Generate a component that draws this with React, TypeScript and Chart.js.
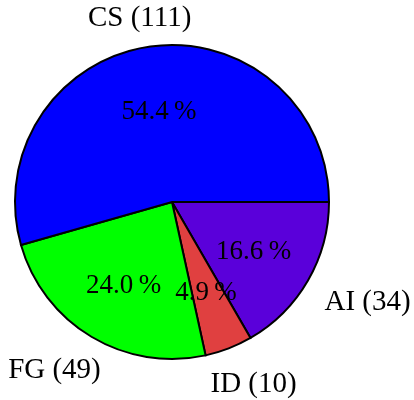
import React, { useEffect, useRef } from "react";
import { Chart, registerables } from "chart.js";

Chart.register(...registerables);

const categories = ["CS", "FG", "ID", "AI"];
const values = [111, 49, 10, 34];
const colors = ["#0000ff", "#00ff00", "#e04040", "#5a00da"];

const LABEL_FONT = "29px 'Liberation Serif', 'DejaVu Serif', serif";
const PCT_FONT = "27px 'Liberation Serif', 'DejaVu Serif', serif";

const labelPlugin = {
  id: "pieLabels",
  afterDatasetsDraw(chart: any) {
    const meta = chart.getDatasetMeta(0);
    const data: number[] = chart.data.datasets[0].data;
    const labels: string[] = chart.data.labels;
    const total = data.reduce((a, b) => a + b, 0);
    const ctx = chart.ctx;
    ctx.save();
    ctx.fillStyle = "#000";
    ctx.textAlign = "center";
    ctx.textBaseline = "middle";
    meta.data.forEach((arc: any, i: number) => {
      const p = arc.getProps(["startAngle", "endAngle", "x", "y", "outerRadius"], true);
      const mid = (p.startAngle + p.endAngle) / 2;
      const c = Math.cos(mid);
      const s = Math.sin(mid);
      const r = p.outerRadius;
      const pctVal = Math.floor((data[i] / total) * 1000) / 10;
      const pct = pctVal.toFixed(1) + "\u2009%";
      ctx.font = PCT_FONT;
      ctx.fillText(pct, p.x + c * r * 0.6, p.y + s * r * 0.6 + 3);
      const txt = `${labels[i]} (${data[i]})`;
      ctx.font = LABEL_FONT;
      const w = ctx.measureText(txt).width;
      const rx = r * 1.1 + w / 2 + 10;
      const ry = r * 1.1 + 18;
      ctx.fillText(txt, p.x + c * rx, p.y + s * ry + 5);
    });
    ctx.restore();
  },
};

export default function App() {
  const ref = useRef<HTMLCanvasElement>(null);
  useEffect(() => {
    document.body.style.margin = "0";
    const order = [3, 2, 1, 0];
    const chart = new Chart(ref.current!, {
      type: "pie",
      data: {
        labels: order.map((i) => categories[i]),
        datasets: [
          {
            data: order.map((i) => values[i]),
            backgroundColor: order.map((i) => colors[i]),
            borderColor: "#000",
            borderWidth: 2,
            borderJoinStyle: "miter",
          } as any,
        ],
      },
      options: {
        responsive: false,
        animation: false,
        rotation: 90,
        layout: { padding: { left: 14, right: 84, top: 44, bottom: 40 } },
        plugins: {
          legend: { display: false },
          tooltip: { enabled: false },
        },
      },
      plugins: [labelPlugin],
    });
    return () => chart.destroy();
  }, []);
  return (
    <div style={{ width: 414, height: 400, background: "#fff" }}>
      <canvas ref={ref} width={414} height={400} />
    </div>
  );
}
